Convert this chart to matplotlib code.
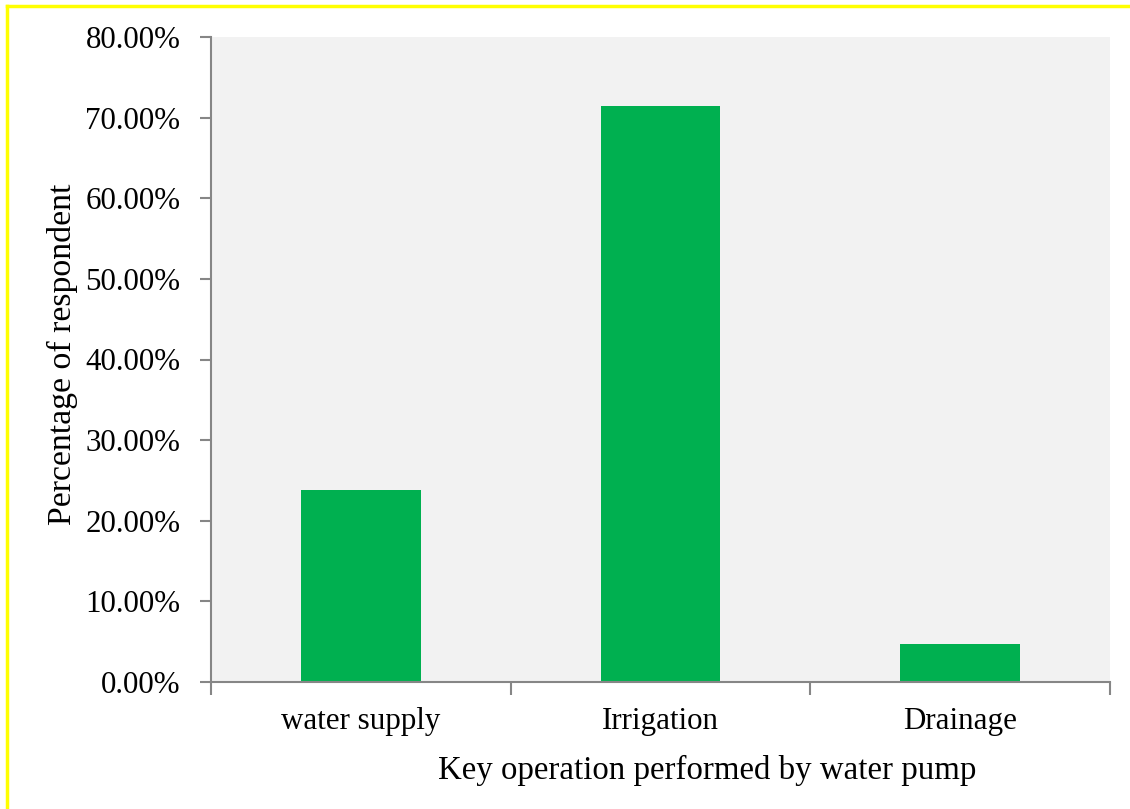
import numpy as np
import matplotlib
matplotlib.use("Agg")
from matplotlib import pyplot as plt
from matplotlib.lines import Line2D

categories = ["water supply", "Irrigation", "Drainage"]
percentages = [23.81, 71.43, 4.76]
y_ticks = [0, 10, 20, 30, 40, 50, 60, 70, 80]

plt.rcParams['font.family'] = ['Liberation Serif', 'DejaVu Serif']

W, H = 1130, 809
fig = plt.figure(figsize=(W / 100, H / 100), dpi=100)
ax = fig.add_axes([211 / W, (H - 682) / H, 899 / W, 645 / H])
ax.set_facecolor('#f2f2f2')

x = np.arange(len(categories))
ax.bar(x, percentages, width=0.4, color='#00b050', zorder=2)

ax.set_xlim(-0.5, len(categories) - 0.5)
ax.set_ylim(0, 80)

# y axis
ax.set_yticks(y_ticks)
ax.set_yticklabels(['{:.2f}%'.format(v) for v in y_ticks], fontsize=22.3)
ax.tick_params(axis='y', direction='out', length=8, width=1.5,
               color='#868686', pad=14)

# x axis: ticks at category boundaries, labels at centres
ax.set_xticks(np.arange(len(categories) + 1) - 0.5)
ax.set_xticklabels([])
ax.set_xticks(x, minor=True)
ax.set_xticklabels(categories, minor=True, fontsize=22.3)
ax.tick_params(axis='x', which='major', direction='out', length=9,
               width=1.5, color='#868686')
ax.tick_params(axis='x', which='minor', length=0, pad=18)

for s in ['top', 'right']:
    ax.spines[s].set_visible(False)
for s in ['left', 'bottom']:
    ax.spines[s].set_color('#868686')
    ax.spines[s].set_linewidth(1.5)

# axis titles
fig.text(62 / W, 1 - 354 / H, 'Percentage of respondent', rotation=90,
         fontsize=24.3, ha='center', va='center')
fig.text(707 / W, 1 - 770 / H, 'Key operation performed by water pump',
         fontsize=23.7, ha='center', va='center')

# yellow frame (top and left edges visible)
fig.add_artist(Line2D([7 / W, 1], [1 - 6 / H, 1 - 6 / H],
                      transform=fig.transFigure, color='#ffff00', lw=2.5))
fig.add_artist(Line2D([7 / W, 7 / W], [0, 1 - 6 / H],
                      transform=fig.transFigure, color='#ffff00', lw=2.5))

fig.savefig('out.png', dpi=100)
